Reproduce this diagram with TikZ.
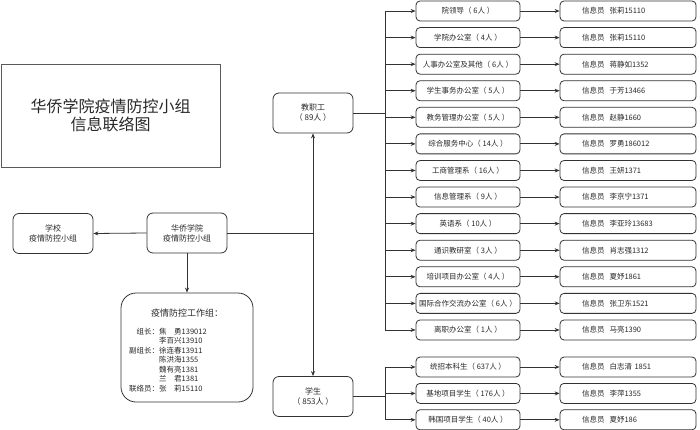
\documentclass[tikz,border=0pt]{standalone}
\usepackage{fontspec}
\setmainfont{Noto Sans CJK SC}
\usetikzlibrary{arrows.meta}
\definecolor{linec}{RGB}{51,51,51}
\definecolor{textc}{RGB}{40,40,40}
\definecolor{titlec}{RGB}{90,90,90}
\begin{document}
\begin{tikzpicture}[x=1pt,y=-1pt,
  every node/.style={text=textc},
  titlebox/.style={draw=titlec, line width=0.8pt, minimum width=219pt, minimum height=103pt, align=center, inner sep=0pt, font=\fontsize{16}{18}\selectfont},
  midbox/.style={draw=linec, line width=0.8pt, rounded corners=6pt, minimum width=80pt, minimum height=40pt, align=center, inner sep=0pt, font=\fontsize{8}{10}\selectfont},
  workbox/.style={draw=linec, line width=0.8pt, rounded corners=15pt, minimum width=132pt, minimum height=109pt, inner sep=0pt},
  deptbox/.style={draw=linec, line width=0.8pt, rounded corners=4pt, minimum width=104pt, minimum height=20pt, inner sep=0pt, font=\fontsize{7.5}{9}\selectfont},
  infobox/.style={draw=linec, line width=0.8pt, rounded corners=4pt, minimum height=20pt, inner ysep=0pt, inner xsep=22pt, text width=92pt, align=left, font=\fontsize{7.5}{9}\selectfont},
  wire/.style={draw=linec, line width=0.8pt},
  arr/.style={wire, -{Stealth[length=5pt,width=4pt]}}
]
\useasboundingbox (0,0) rectangle (700,430);

% title
\node[titlebox] (title) at (110.5,115.5) {华侨学院疫情防控小组\\信息联络图};

% left part
\node[midbox] (school) at (53,233.5) {学校\\疫情防控小组};
\node[midbox] (hq) at (187,233) {华侨学院\\疫情防控小组};
\node[workbox] (work) at (187,347.5) {};
\node[font=\fontsize{9}{11}\selectfont, inner sep=0pt] (wtitle) at (187,313) {疫情防控工作组：};
\node[anchor=north west, inner sep=0pt, font=\fontsize{7.5}{9.5}\selectfont] (wlist) at (129,327.5) {%
\begin{tabular}{@{}r@{}l@{}}
组长：& 焦　勇139012\\
& 李百兴13910\\
副组长：& 徐连春13911\\
& 陈洪海1355\\
& 魏有亮1381\\
& 兰　君1381\\
联络员：& 张　莉15110
\end{tabular}};

% middle
\node[midbox] (staff) at (313,113) {教职工\\（ 89人 ）};
\node[midbox] (stud) at (313,396.5) {学生\\（ 853人 ）};
\coordinate (junc) at (313,233);
\draw[arr] (hq.west) -- (school.east);
\draw[arr] (hq.south) -- (work.north);
\draw[wire] (hq.east) -- (junc);
\draw[arr] (junc) -- (staff.south);
\draw[arr] (junc) -- (stud.north);

% staff departments
\foreach \i/\d/\f in {
 0/院领导（ 6人 ）/张莉15110,
 1/学院办公室（ 4人 ）/张莉15110,
 2/人事办公室及其他（ 6人 ）/蒋静如1352,
 3/学生事务办公室（ 5人 ）/于芳13466,
 4/教务管理办公室（ 5人 ）/赵静1660,
 5/综合服务中心（ 14人 ）/罗勇186012,
 6/工商管理系（ 16人 ）/王妍1371,
 7/信息管理系（ 9人 ）/李京宁1371,
 8/英语系（ 10人 ）/李亚玲13683,
 9/通识教研室（ 3人 ）/肖志强1312,
 10/培训项目办公室（ 4人 ）/夏妤1861,
 11/国际合作交流办公室（ 6人 ）/张卫东1521,
 12/离职办公室（ 1人 ）/马亮1390}{
  \node[deptbox] (d\i) at (468,11+26.58*\i) {\d};
  \node[infobox] (f\i) at (628,11+26.58*\i) {信息员\ \ \f};
  \draw[arr] (d\i.east) -- (f\i.west);
}
\coordinate (sbus) at (385,113);
\draw[wire] (staff.east) -- (sbus);
\draw[wire] (d0.west -| sbus) -- (d12.west -| sbus);
\foreach \i in {0,...,12}{
  \draw[arr] (d\i.west -| sbus) -- (d\i.west);
}

% student groups
\foreach \i/\d/\f in {
 0/统招本科生（ 637人 ）/白志清 1851,
 1/基地项目学生（ 176人 ）/李萍1355,
 2/韩国项目学生（ 40人 ）/夏妤186}{
  \node[deptbox] (s\i) at (468,367+26.4*\i) {\d};
  \node[infobox] (g\i) at (628,367+26.4*\i) {信息员\ \ \f};
  \draw[arr] (s\i.east) -- (g\i.west);
}
\coordinate (tbus) at (385,396.5);
\draw[wire] (stud.east) -- (tbus);
\draw[wire] (s0.west -| tbus) -- (s2.west -| tbus);
\foreach \i in {0,1,2}{
  \draw[arr] (s\i.west -| tbus) -- (s\i.west);
}
\end{tikzpicture}
\end{document}
